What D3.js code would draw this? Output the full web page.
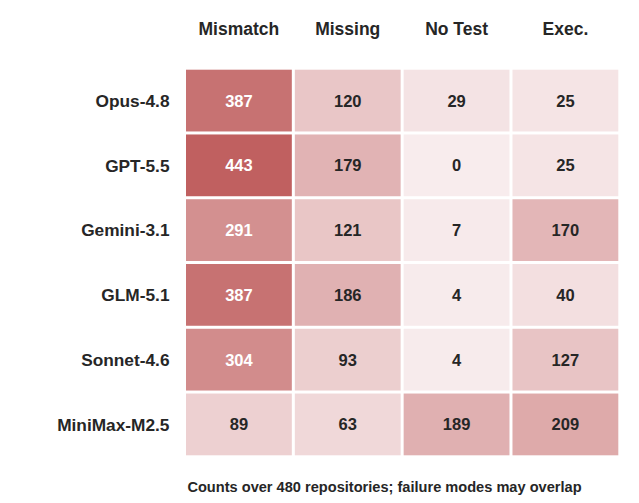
<!DOCTYPE html>
<html>
<head>
<meta charset="utf-8">
<script src="https://cdn.jsdelivr.net/npm/d3@7"></script>
<style>
  html, body { margin: 0; padding: 0; background: #fff; }
  svg { display: block; }
  text { font-family: "Liberation Sans", Arial, Helvetica, sans-serif; font-weight: bold; }
</style>
</head>
<body>
<svg id="chart" width="639" height="503"></svg>
<script>
const models = ["Opus-4.8", "GPT-5.5", "Gemini-3.1", "GLM-5.1", "Sonnet-4.6", "MiniMax-M2.5"];
const columns = ["Mismatch", "Missing", "No Test", "Exec."];
const mismatch = [387, 443, 291, 387, 304, 89];
const missing = [120, 179, 121, 186, 93, 63];
const noTest = [29, 0, 7, 4, 4, 189];
const exec = [25, 25, 170, 40, 127, 209];
const caption = "Counts over 480 repositories; failure modes may overlap";

const series = [mismatch, missing, noTest, exec];
const cells = [];
models.forEach((m, i) => {
  columns.forEach((c, j) => {
    cells.push({ model: m, col: c, value: series[j][i] });
  });
});

const svg = d3.select("#chart");
const x = d3.scaleBand().domain(columns).range([184.5, 619.8]);
const y = d3.scaleBand().domain(models).range([68.2, 456.8]);
const maxV = d3.max(cells, d => d.value);
const color = d3.scaleLinear().domain([0, maxV])
  .range(["rgb(248,236,237)", "rgb(192,96,96)"]).interpolate(d3.interpolateRgb);
const gap = 1.5;

svg.selectAll("rect.cell").data(cells).enter().append("rect")
  .attr("class", "cell")
  .attr("x", d => x(d.col) + gap)
  .attr("y", d => y(d.model) + gap)
  .attr("width", x.bandwidth() - 2 * gap)
  .attr("height", y.bandwidth() - 2 * gap)
  .attr("fill", d => color(d.value));

svg.selectAll("text.val").data(cells).enter().append("text")
  .attr("class", "val")
  .attr("x", d => x(d.col) + x.bandwidth() / 2)
  .attr("y", d => y(d.model) + y.bandwidth() / 2)
  .attr("dy", "0.36em")
  .attr("text-anchor", "middle")
  .attr("font-size", 16.5)
  .attr("fill", d => d.value > 0.55 * maxV ? "#ffffff" : "#262626")
  .text(d => d.value);

svg.selectAll("text.col").data(columns).enter().append("text")
  .attr("class", "col")
  .attr("x", d => x(d) + x.bandwidth() / 2)
  .attr("y", 34.5)
  .attr("text-anchor", "middle")
  .attr("font-size", 17.5)
  .attr("fill", "#262626")
  .text(d => d);

svg.selectAll("text.row").data(models).enter().append("text")
  .attr("class", "row")
  .attr("x", 169.5)
  .attr("y", d => y(d) + y.bandwidth() / 2)
  .attr("dy", "0.36em")
  .attr("text-anchor", "end")
  .attr("font-size", 17.3)
  .attr("fill", "#262626")
  .text(d => d);

svg.append("text")
  .attr("x", 384.5)
  .attr("y", 492)
  .attr("text-anchor", "middle")
  .attr("font-size", 14.6)
  .attr("fill", "#262626")
  .text(caption);
</script>
</body>
</html>
